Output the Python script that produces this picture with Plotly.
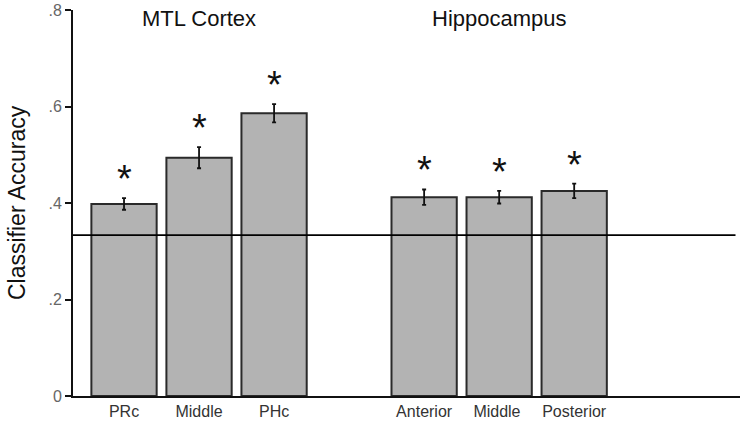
import plotly.graph_objects as go

categories = ["PRc", "Middle", "PHc", "Anterior", "Middle ", "Posterior"]
positions = [0, 1, 2, 4, 5, 6]
accuracy = [0.398, 0.494, 0.586, 0.412, 0.412, 0.425]
sem = [0.012, 0.022, 0.019, 0.016, 0.013, 0.015]
chance = 1 / 3
y_ticks = [0, 0.2, 0.4, 0.6, 0.8]
y_tick_labels = ["0", ".2", ".4", ".6", ".8"]
groups = [("MTL Cortex", 1), ("Hippocampus", 5)]

FONT = "Liberation Sans"

fig = go.Figure()
fig.add_trace(go.Bar(
    x=positions, y=accuracy, width=0.87,
    marker=dict(color="#b3b3b3", line=dict(color="#2a2a2a", width=2)),
    error_y=dict(type="data", array=sem, color="#111", thickness=1.8, width=2),
    showlegend=False, hoverinfo="skip",
))

fig.add_shape(type="line", xref="x", yref="y", x0=-0.68, x1=8.15, y0=chance, y1=chance,
              line=dict(color="black", width=1.8))

for p, v, e in zip(positions, accuracy, sem):
    fig.add_annotation(x=p, y=v + e, text="*", showarrow=False, yanchor="bottom",
                       yshift=-4, font=dict(size=38, color="#111", family=FONT))

for name, p in groups:
    fig.add_annotation(x=p, y=1, xref="x", yref="paper", text=name, showarrow=False,
                       yanchor="middle", yshift=-8,
                       font=dict(size=22, color="#111", family=FONT))

fig.add_annotation(x=0, y=0.5, xref="paper", yref="paper", text="Classifier Accuracy",
                   textangle=-90, showarrow=False, xanchor="center", yanchor="middle",
                   xshift=-56, font=dict(size=23, color="#111", family=FONT))

fig.update_layout(
    width=740, height=422,
    margin=dict(l=73, r=0, t=10, b=26, autoexpand=False),
    paper_bgcolor="white", plot_bgcolor="white",
    font=dict(family=FONT, color="#333"),
    xaxis=dict(range=[-0.68, 8.21], tickvals=positions, ticktext=categories,
               showgrid=False, zeroline=False, showline=True, linecolor="#111", linewidth=2,
               ticks="", tickfont=dict(size=16, color="#333"), automargin=False),
    yaxis=dict(range=[0, 0.8], tickvals=y_ticks, ticktext=y_tick_labels,
               showgrid=False, zeroline=False, showline=True, linecolor="#111", linewidth=2,
               ticks="outside", ticklen=6, tickwidth=2, tickcolor="#111",
               tickfont=dict(size=16, color="#666"), automargin=False),
)

fig.write_html("out.html", config={"displayModeBar": False},
               post_script="document.body.style.margin='0px';")
